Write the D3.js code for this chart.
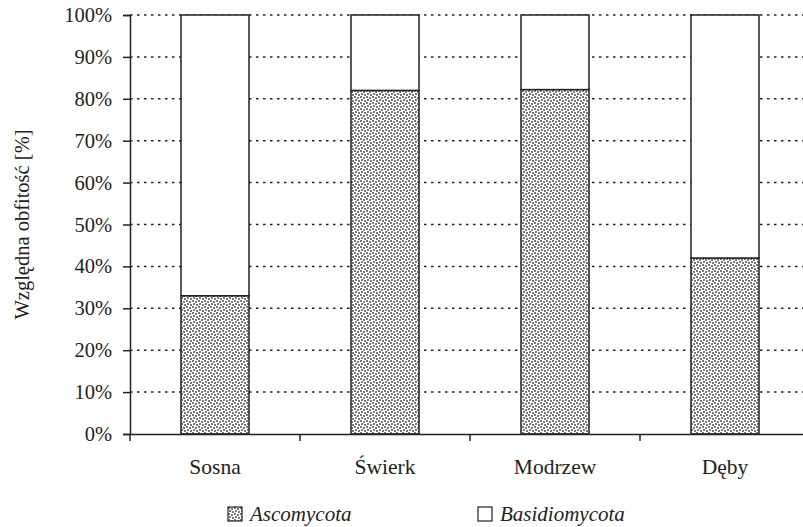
<!DOCTYPE html>
<html>
<head>
<meta charset="utf-8">
<script src="https://cdn.jsdelivr.net/npm/d3@7"></script>
<style>
  body { margin: 0; background: #fff; }
</style>
</head>
<body>
<svg id="chart"></svg>
<script>
const categories = ["Sosna", "Świerk", "Modrzew", "Dęby"];
const ascomycota = [33, 82, 82.2, 42];
const basidiomycota = [67, 18, 17.8, 58];
const yTicks = [0, 10, 20, 30, 40, 50, 60, 70, 80, 90, 100];

const FONT = "Liberation Serif";
const width = 803, height = 527;
const margin = { top: 15, left: 130, bottom: 93 };
const plotW = 680;
const plotH = height - margin.top - margin.bottom;

const svg = d3.select("#chart").attr("width", width).attr("height", height);

// stipple pattern for Ascomycota
const defs = svg.append("defs");
const pat = defs.append("pattern")
    .attr("id", "stipple")
    .attr("patternUnits", "userSpaceOnUse")
    .attr("width", 6).attr("height", 6);
pat.append("rect").attr("width", 6).attr("height", 6).attr("fill", "#fff");
[[0, 0], [3, 1], [1, 3], [4, 4]].forEach(p => {
    pat.append("rect").attr("x", p[0]).attr("y", p[1])
        .attr("width", 2).attr("height", 2).attr("fill", "#7a7a7a");
});

const x = d3.scaleBand().domain(categories).range([margin.left, margin.left + plotW]);
const y = d3.scaleLinear().domain([0, 100]).range([margin.top + plotH, margin.top]);

const g = svg.append("g");

// dotted gridlines
g.selectAll("line.grid")
    .data(yTicks.filter(d => d > 0))
    .join("line")
    .attr("class", "grid")
    .attr("x1", margin.left).attr("x2", margin.left + plotW)
    .attr("y1", d => y(d)).attr("y2", d => y(d))
    .attr("stroke", "#222")
    .attr("stroke-width", 1.5)
    .attr("stroke-dasharray", "2.5,4.5");

const barW = 68;
const stack = categories.map((c, i) => ({ c, a: ascomycota[i], b: basidiomycota[i] }));

g.selectAll("rect.asc")
    .data(stack)
    .join("rect")
    .attr("x", d => x(d.c) + x.bandwidth() / 2 - barW / 2)
    .attr("y", d => y(d.a))
    .attr("width", barW)
    .attr("height", d => y(0) - y(d.a))
    .attr("fill", "url(#stipple)")
    .attr("stroke", "#222").attr("stroke-width", 1.5);

g.selectAll("rect.bas")
    .data(stack)
    .join("rect")
    .attr("x", d => x(d.c) + x.bandwidth() / 2 - barW / 2)
    .attr("y", d => y(d.a + d.b))
    .attr("width", barW)
    .attr("height", d => y(d.a) - y(d.a + d.b))
    .attr("fill", "#fff")
    .attr("stroke", "#222").attr("stroke-width", 1.5);

// y axis
const yAxis = svg.append("g")
    .attr("transform", `translate(${margin.left},0)`)
    .call(d3.axisLeft(y).tickValues(yTicks).tickFormat(d => d + "%").tickSize(7).tickPadding(11));
yAxis.attr("font-family", FONT).attr("font-size", 20.5);
yAxis.selectAll("text").attr("fill", "#222");

// x axis
const xAxis = svg.append("g")
    .attr("transform", `translate(0,${y(0)})`)
    .call(d3.axisBottom(x).tickSize(0).tickPadding(25));
xAxis.attr("font-family", FONT).attr("font-size", 21.5);
xAxis.selectAll("text").attr("fill", "#222");
xAxis.selectAll(".tick line").remove();
// tick marks at band boundaries
xAxis.selectAll("line.bt")
    .data(categories.concat(["end"]))
    .join("line")
    .attr("x1", (d, i) => margin.left + i * x.step())
    .attr("x2", (d, i) => margin.left + i * x.step())
    .attr("y1", 0).attr("y2", 7)
    .attr("stroke", "#222").attr("stroke-width", 1.5);

svg.selectAll(".domain").attr("stroke", "#222").attr("stroke-width", 1.5);
svg.selectAll(".tick line").attr("stroke", "#222").attr("stroke-width", 1.5);

// y title
svg.append("text")
    .attr("transform", `translate(29,${margin.top + plotH / 2}) rotate(-90)`)
    .attr("text-anchor", "middle")
    .attr("font-family", FONT)
    .attr("font-size", 20.5)
    .attr("fill", "#222")
    .text("Względna obfitość [%]");

// legend
const legend = [
    { name: "Ascomycota", fill: "url(#stipple)", x: 228 },
    { name: "Basidiomycota", fill: "#fff", x: 478 }
];
const lg = svg.selectAll("g.legend").data(legend).join("g")
    .attr("transform", d => `translate(${d.x},507)`);
lg.append("rect")
    .attr("width", 14).attr("height", 14)
    .attr("fill", d => d.fill)
    .attr("stroke", "#222").attr("stroke-width", 1.2);
lg.append("text")
    .attr("x", 22).attr("y", 14)
    .attr("font-family", FONT)
    .attr("font-size", 21)
    .attr("font-style", "italic")
    .attr("fill", "#222")
    .text(d => d.name);
</script>
</body>
</html>
